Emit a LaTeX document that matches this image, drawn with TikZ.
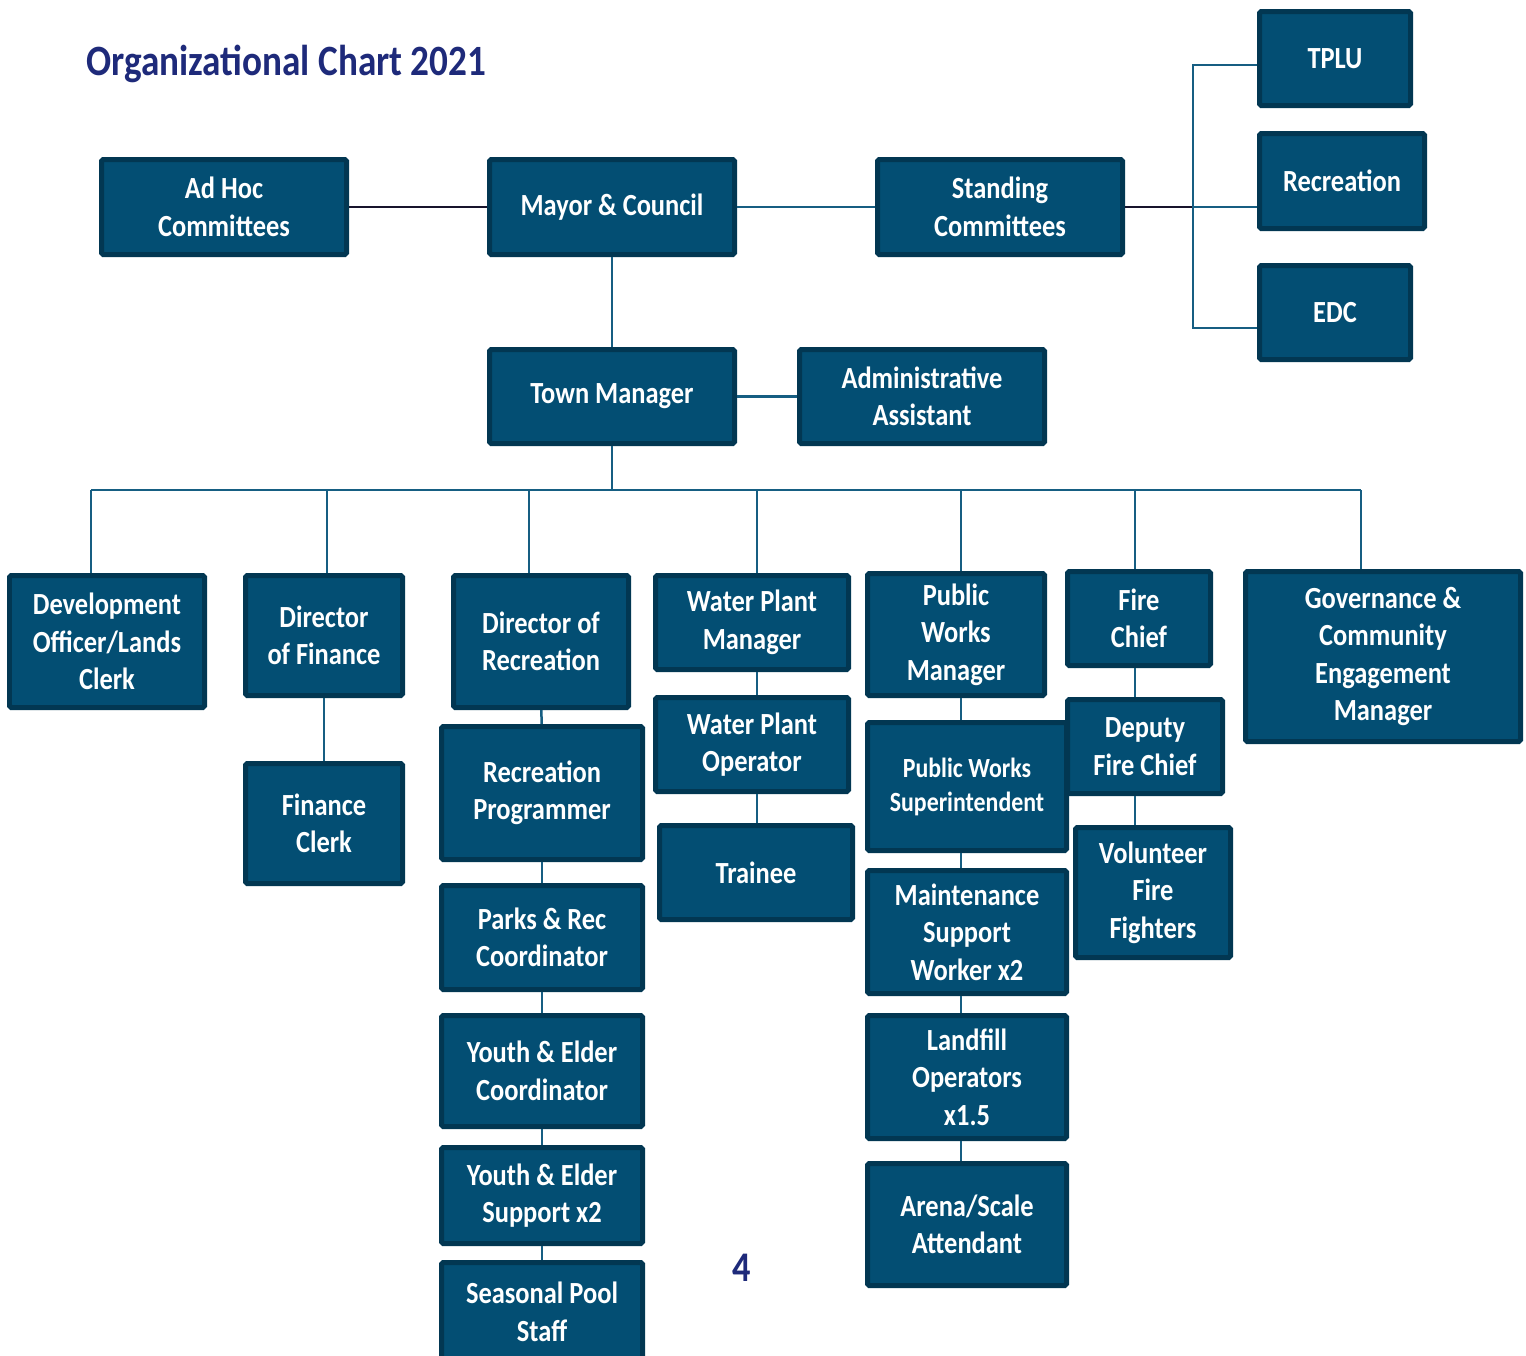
\documentclass[tikz,border=0pt]{standalone}
\usepackage{fontspec}
\setmainfont[FakeStretch=0.86]{Carlito}
\usepackage{tikz}
\usetikzlibrary{positioning}

\definecolor{boxfill}{RGB}{3,78,115}
\definecolor{boxedge}{RGB}{2,55,82}
\definecolor{linkblue}{RGB}{22,94,130}
\definecolor{linkdark}{RGB}{24,20,44}
\definecolor{titleblue}{RGB}{30,42,122}

\begin{document}
\begin{tikzpicture}[
            x=0.02cm, y=-0.02cm,
            box/.style={rectangle, draw=boxedge, fill=boxfill, line width=0.1cm,
                        rounded corners=1pt, text=white, align=center, inner sep=0pt,
                        font=\bfseries\fontsize{17.5}{21.3}\selectfont},
            wh/.style 2 args={minimum width=#1*0.02cm-0.1cm, minimum height=#2*0.02cm-0.1cm},
            small/.style={font=\bfseries\fontsize{15.8}{19.4}\selectfont},
            link/.style={line width=0.05cm, linkblue},
            dark/.style={line width=0.05cm, linkdark}
        ]
        \clip (0,0) rectangle (1526,1356);

        % Title and page number
        \node (title) at (80,64) [anchor=west, text=titleblue,
            font=\bfseries\fontsize{24.6}{28}\selectfont] {Organizational Chart 2021};
        \node (page) at (742,1268) [text=titleblue,
            font=\bfseries\fontsize{24}{28}\selectfont] {4};

        % Council row
        \node (adhoc) at (224,207) [box, wh={250}{100}] {Ad Hoc\\Committees};
        \node (mayor) at (612,207) [box, wh={250}{100}] {Mayor \& Council};
        \node (standing) at (1000,207) [box, wh={250}{100}] {Standing\\Committees};
        \node (tplu) at (1335,58.5) [box, wh={156}{99}] {TPLU};
        \node (recreation) at (1342,181) [box, wh={170}{100}] {Recreation};
        \node (edc) at (1335,312.5) [box, wh={156}{99}] {EDC};

        % Manager row
        \node (town) at (612,396.5) [box, wh={250}{99}] {Town Manager};
        \node (admin) at (922,396.5) [box, wh={250}{99}] {Administrative\\Assistant};

        % Departments
        \node (devofc) at (107,641.5) [box, wh={200}{137}] {Development\\Officer/Lands\\Clerk};
        \node (dirfin) at (324,635.5) [box, wh={162}{125}] {Director\\of Finance};
        \node (finclerk) at (324,823.5) [box, wh={162}{125}] {Finance\\Clerk};

        \node (dirrec) at (541,641.5) [box, wh={180}{137}] {Director of\\Recreation};
        \node (recprog) at (542,793) [box, wh={206}{138}] {Recreation\\Programmer};
        \node (parks) at (542,937.5) [box, wh={206}{109}] {Parks \& Rec\\Coordinator};
        \node (yecoord) at (542,1071) [box, wh={206}{116}] {Youth \& Elder\\Coordinator};
        \node (yesupp) at (542,1195.5) [box, wh={206}{101}] {Youth \& Elder\\Support x2};
        \node (pool) at (542,1312) [box, wh={206}{104}] {Seasonal Pool\\Staff};

        \node (watmgr) at (752,622.5) [box, wh={198}{99}] {Water Plant\\Manager};
        \node (watop) at (752,744.5) [box, wh={198}{99}] {Water Plant\\Operator};
        \node (trainee) at (756,872.5) [box, wh={198}{99}] {Trainee};

        \node (pwmgr) at (956,634.5) [box, wh={182}{127}] {Public\\Works\\Manager};
        \node (pwsup) at (967,786.5) [box, small, wh={204}{133}] {Public Works\\Superintendent};
        \node (maint) at (967,932) [box, wh={204}{128}] {Maintenance\\Support\\Worker x2};
        \node (landfill) at (967,1077) [box, wh={204}{128}] {Landfill\\Operators\\x1.5};
        \node (arena) at (967,1224.5) [box, wh={204}{127}] {Arena/Scale\\Attendant};

        \node (firechief) at (1139,618.5) [box, wh={148}{99}] {Fire\\Chief};
        \node (deputy) at (1145,746.5) [box, wh={160}{99}] {Deputy\\Fire Chief};
        \node (volunteer) at (1153,892.5) [box, wh={160}{135}] {Volunteer\\Fire\\Fighters};

        \node (gov) at (1383,656.5) [box, wh={280}{175}] {Governance \&\\Community\\Engagement\\Manager};

        % Council connectors
        \coordinate (fork) at (1193,207);
        \coordinate (forktop) at (1193,65);
        \coordinate (forkbot) at (1193,328);
        \draw [dark] (adhoc) -- (mayor);
        \draw [link] (mayor) -- (standing);
        \draw [dark] (standing) -- (fork);
        \draw [link] (tplu.west |- forktop) -- (forktop) -- (forkbot) -- (edc.west |- forkbot);
        \draw [link] (fork) -- (fork -| recreation.west);
        \draw [link] (mayor) -- (town);
        \draw [link] (town) -- (admin);

        % Bus to departments
        \coordinate (bus) at (612,490);
        \coordinate (b1) at (91,490);
        \coordinate (b2) at (327,490);
        \coordinate (b3) at (529,490);
        \coordinate (b4) at (757,490);
        \coordinate (b5) at (961,490);
        \coordinate (b6) at (1135,490);
        \coordinate (b7) at (1361,490);
        \draw [link] (town) -- (bus);
        \draw [link] (b1) -- (b7);
        \draw [link] (b1) -- (b1 |- devofc.north);
        \draw [link] (b2) -- (b2 |- dirfin.north);
        \draw [link] (b3) -- (b3 |- dirrec.north);
        \draw [link] (b4) -- (b4 |- watmgr.north);
        \draw [link] (b5) -- (b5 |- pwmgr.north);
        \draw [link] (b6) -- (b6 |- firechief.north);
        \draw [link] (b7) -- (b7 |- gov.north);

        % Department chains
        \draw [link] (dirfin) -- (finclerk);

        \draw [link] (dirrec) -- (recprog);
        \draw [link] (recprog) -- (parks);
        \draw [link] (parks) -- (yecoord);
        \draw [link] (yecoord) -- (yesupp);
        \draw [link] (yesupp) -- (pool);

        \draw [link] (b4 |- watmgr.south) -- (b4 |- watop.north);
        \draw [link] (b4 |- watop.south) -- (b4 |- trainee.north);

        \draw [link] (b5 |- pwmgr.south) -- (b5 |- pwsup.north);
        \draw [link] (b5 |- pwsup.south) -- (b5 |- maint.north);
        \draw [link] (b5 |- maint.south) -- (b5 |- landfill.north);
        \draw [link] (b5 |- landfill.south) -- (b5 |- arena.north);

        \draw [link] (b6 |- firechief.south) -- (b6 |- deputy.north);
        \draw [link] (b6 |- deputy.south) -- (b6 |- volunteer.north);
\end{tikzpicture}
\end{document}
